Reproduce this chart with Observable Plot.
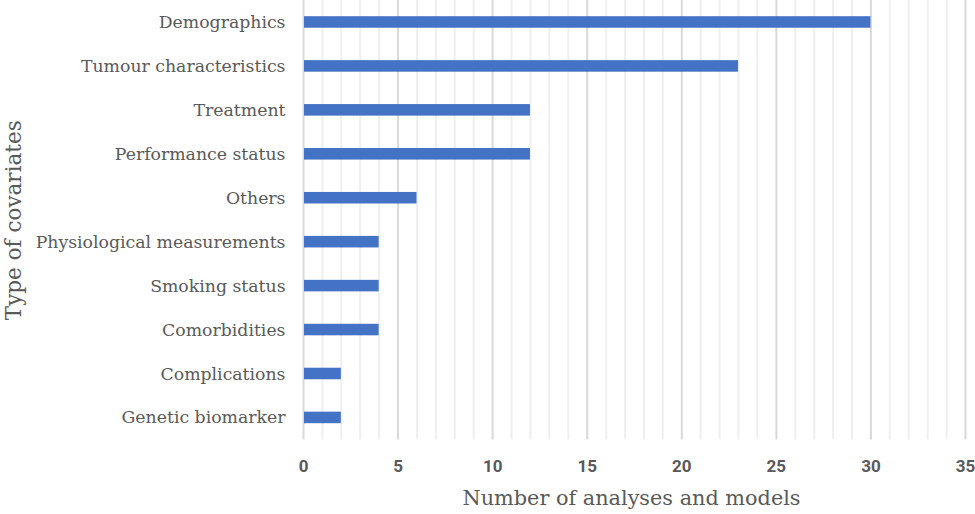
<!DOCTYPE html>
<html>
<head>
<meta charset="utf-8">
<script src="https://cdn.jsdelivr.net/npm/d3@7"></script>
<script src="https://cdn.jsdelivr.net/npm/@observablehq/plot@0.6"></script>
<style>
  html, body { margin: 0; padding: 0; background: #fff; }
  #chart svg { display: block; }
</style>
</head>
<body>
<div id="chart"></div>
<script>
const categories = [
  "Demographics",
  "Tumour characteristics",
  "Treatment",
  "Performance status",
  "Others",
  "Physiological measurements",
  "Smoking status",
  "Comorbidities",
  "Complications",
  "Genetic biomarker"
];
const counts = [30, 23, 12, 12, 6, 4, 4, 4, 2, 2];
const xTicks = [0, 5, 10, 15, 20, 25, 30, 35];
const minorTicks = d3.range(0, 36).filter(v => v % 5 !== 0);
const xLabel = "Number of analyses and models";
const yLabel = "Type of covariates";

const data = categories.map((c, i) => ({category: c, value: counts[i]}));
const serif = "'DejaVu Serif', serif";

const chart = Plot.plot({
  width: 975,
  height: 514,
  marginTop: 0,
  marginBottom: 74.6,
  marginLeft: 303,
  marginRight: 10,
  style: {background: "#fff", color: "#595959"},
  x: {domain: [0, 35]},
  y: {domain: categories, padding: 0, round: false},
  marks: [
    Plot.ruleX(minorTicks, {stroke: "#efefef", strokeWidth: 2}),
    Plot.ruleX(xTicks, {stroke: "#d9d9d9", strokeWidth: 2}),
    Plot.barX(data, {x: "value", y: "category", fill: "#4472C4", insetTop: 16.2, insetBottom: 16.2, insetLeft: 1}),
    Plot.axisX({
      ticks: xTicks, tickSize: 0, tickPadding: 20, tickFormat: d => d,
      fontFamily: "Roboto, sans-serif", fontWeight: "bold", fontSize: 17, fill: "#595959",
      label: null
    }),
    Plot.axisY({
      tickSize: 0, tickPadding: 18,
      fontFamily: serif, fontSize: 17.3, fill: "#595959",
      label: null
    }),
    Plot.text([xLabel], {frameAnchor: "bottom", dx: -3, dy: 65, fontFamily: serif, fontSize: 20.8, fill: "#595959"}),
    Plot.text([yLabel], {frameAnchor: "left", dx: -289, rotate: -90, textAnchor: "middle", fontFamily: serif, fontSize: 21.5, fill: "#595959"})
  ]
});
document.getElementById("chart").appendChild(chart);
</script>
</body>
</html>
